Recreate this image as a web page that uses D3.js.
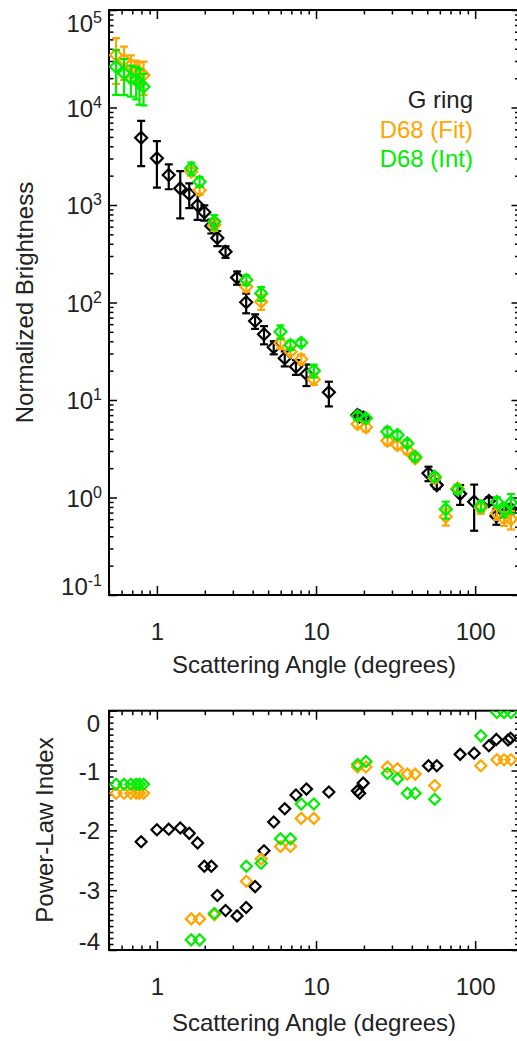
<!DOCTYPE html>
<html><head><meta charset="utf-8">
<script src="https://cdn.jsdelivr.net/npm/d3@7"></script>
<style>
body{margin:0;background:#fff}
svg{display:block}
text{font-family:"Liberation Sans",Arial,Helvetica,sans-serif;fill:#222}
</style>
</head><body>
<svg id="c" width="517" height="1041"></svg>
<script>
// ---------------- data ----------------
// G ring
const gAngle = [0.796,1.00,1.187,1.402,1.597,1.802,1.986,2.198,2.397,2.70,3.19,3.64,4.14,4.71,5.42,6.36,7.48,8.71,12.04,18.2,18.8,19.8,50.9,57.4,80.5,98.6,122,136,161,167];
const gBright = [4900,3010,2030,1480,1297,993,841,610,459,332,180,100.5,64.6,47.2,34.7,26.8,21.9,18.5,12.0,7.0,6.8,6.6,1.77,1.34,1.09,0.906,0.92,0.645,0.744,0.76];
const gErr = [2400,1500,580,750,370,290,150,100,80,45,28,23,11,10,5.3,4.7,3.8,4.6,3.4,0.4,0.3,0.3,0.3,0.12,0.25,0.45,0.08,0.12,0.08,0.08];
const gIndex = [-2.19,-1.99,-1.98,-1.96,-2.05,-2.21,-2.60,-2.60,-3.09,-3.34,-3.43,-3.29,-2.94,-2.34,-1.86,-1.64,-1.41,-1.31,-1.36,-1.34,-1.38,-1.21,-0.92,-0.92,-0.73,-0.71,-0.585,-0.48,-0.49,-0.46];

// D68 (shared angles)
const dAngle = [0.554,0.622,0.686,0.741,0.777,0.824,1.644,1.855,2.296,3.65,4.52,5.98,6.91,8.07,9.69,18.25,20.6,28.1,32.5,37.5,42.0,55.7,65.4,77.5,108.6,137,152,168];
const fitBright = [34500,30700,27300,24300,23000,21500,2197,1417,624,145,102,38.5,31.3,26.2,16.3,5.68,5.25,3.83,3.45,3.07,2.52,1.58,0.635,1.24,0.78,0.69,0.61,0.60];
const fitErr = [17000,11500,7000,6000,6000,8000,200,150,80,16,18,5,2.3,3,2,0.5,0.5,0.4,0.3,0.3,0.2,0.15,0.12,0.12,0.1,0.1,0.1,0.13];
const intBright = [26200,22400,19900,19100,17700,16300,2377,1733,675,170,124,50.2,36.6,38.7,20.0,6.85,6.49,4.73,4.37,3.59,2.62,1.63,0.757,1.21,0.818,0.905,0.744,0.885];
const intErr = [12700,9000,7000,7000,7000,5800,350,200,115,20,20,8,4,3,3,0.6,0.5,0.5,0.4,0.3,0.2,0.15,0.15,0.12,0.1,0.1,0.12,0.2];
const fitIndex = [-1.38,-1.38,-1.38,-1.38,-1.38,-1.38,-3.48,-3.48,-3.41,-2.85,-2.48,-2.27,-2.27,-1.80,-1.80,-0.94,-0.94,-0.94,-0.97,-1.06,-1.06,-1.25,null,null,-0.92,-0.82,-0.82,-0.82];
const intIndex = [-1.23,-1.23,-1.23,-1.23,-1.23,-1.23,-3.83,-3.83,-3.39,-2.60,-2.55,-2.14,-2.14,-1.56,-1.56,-0.90,-0.85,-1.05,-1.14,-1.38,-1.38,-1.48,null,null,-0.42,-0.03,-0.03,-0.03];

// ticks / labels
const xMajor = [1,10,100];
const xLabels = ["1","10","100"];
const yTopExp = [-1,0,1,2,3,4,5];
const yBotMajor = [-4,-3,-2,-1,0];
const legendNames = ["G ring","D68 (Fit)","D68 (Int)"];
const colors = {g:"#000000", fit:"#ffa500", int:"#00ee00"};

// ---------------- layout ----------------
const svg = d3.select("#c");
const L = 109, R = 519.5;
const top1 = 10, bot1 = 595, top2 = 710.7, bot2 = 950;

const x = d3.scaleLog().domain([0.5,190]).range([L,R]);
const yT = d3.scaleLog().domain([0.1,1e5]).range([bot1,top1]);
const yB = d3.scaleLinear().domain([-4,0]).range([bot2,top2]);

function logMinor(lo, hi){
  const out=[];
  for(let e=-2;e<=6;e++){
    for(let k=2;k<=9;k++){
      const v=k*Math.pow(10,e);
      if(v>=lo*0.999 && v<=hi*1.001) out.push(v);
    }
  }
  return out;
}
const xMinor = logMinor(0.5,190);
const yTMinor = logMinor(0.1,1e5);
const yBMinor = d3.range(-40,1).map(d=>d/10).filter(d=>!yBotMajor.some(m=>Math.abs(m-d)<1e-9));

function styleAxis(g, w){
  g.select(".domain").remove();
  g.selectAll(".tick line").attr("stroke","#000").attr("stroke-width",w);
}

function frame(y0,y1){
  svg.append("rect").attr("x",L).attr("y",y0).attr("width",R-L).attr("height",y1-y0)
    .attr("fill","none").attr("stroke","#000").attr("stroke-width",2);
}

function xAxes(y0,y1){
  // bottom major with labels
  svg.append("g").attr("transform",`translate(0,${y1})`)
    .call(d3.axisBottom(x).tickValues(xMajor).tickSizeInner(-9).tickSizeOuter(0).tickPadding(28)
      .tickFormat((d,i)=>xLabels[i]))
    .call(g=>styleAxis(g,1.5))
    .call(g=>g.selectAll("text").attr("font-size",24).attr("fill","#222"));
  svg.append("g").attr("transform",`translate(0,${y1})`)
    .call(d3.axisBottom(x).tickValues(xMinor).tickSizeInner(-4.5).tickSizeOuter(0).tickFormat(""))
    .call(g=>styleAxis(g,1.5));
  svg.append("g").attr("transform",`translate(0,${y0})`)
    .call(d3.axisTop(x).tickValues(xMajor).tickSizeInner(-9).tickSizeOuter(0).tickFormat(""))
    .call(g=>styleAxis(g,1.5));
  svg.append("g").attr("transform",`translate(0,${y0})`)
    .call(d3.axisTop(x).tickValues(xMinor).tickSizeInner(-4.5).tickSizeOuter(0).tickFormat(""))
    .call(g=>styleAxis(g,1.5));
}

function yAxes(scale, major, minor){
  svg.append("g").attr("transform",`translate(${L},0)`)
    .call(d3.axisLeft(scale).tickValues(major).tickSizeInner(-8).tickSizeOuter(0).tickFormat(""))
    .call(g=>styleAxis(g,1.5));
  svg.append("g").attr("transform",`translate(${L},0)`)
    .call(d3.axisLeft(scale).tickValues(minor).tickSizeInner(-4.5).tickSizeOuter(0).tickFormat(""))
    .call(g=>styleAxis(g,1.5));
  svg.append("g").attr("transform",`translate(${R},0)`)
    .call(d3.axisRight(scale).tickValues(major).tickSizeInner(-8).tickSizeOuter(0).tickFormat(""))
    .call(g=>styleAxis(g,1.5));
  svg.append("g").attr("transform",`translate(${R},0)`)
    .call(d3.axisRight(scale).tickValues(minor).tickSizeInner(-4.5).tickSizeOuter(0).tickFormat(""))
    .call(g=>styleAxis(g,1.5));
}

// clip paths
const defs = svg.append("defs");
defs.append("clipPath").attr("id","clipT").append("rect").attr("x",L).attr("y",top1).attr("width",R-L).attr("height",bot1-top1);
defs.append("clipPath").attr("id","clipB").append("rect").attr("x",L).attr("y",top2).attr("width",R-L).attr("height",bot2-top2);

function diamond(cx,cy,s){return `M${cx},${cy-s}L${cx+s},${cy}L${cx},${cy+s}L${cx-s},${cy}Z`;}

// ---------------- top panel ----------------
xAxes(top1,bot1);
yAxes(yT, yTopExp.map(e=>Math.pow(10,e)), yTMinor);
frame(top1,bot1);

// y tick labels with superscripts
const topLab = svg.append("g");
yTopExp.forEach((e,i)=>{
  const ty = yT(Math.pow(10,e));
  let dy = 9;
  if(i===yTopExp.length-1) dy = 21.5;
  if(i===0) dy = 0;
  const t = topLab.append("text").attr("x",102).attr("y",ty+dy).attr("text-anchor","end").attr("font-size",24);
  t.append("tspan").text("10");
  t.append("tspan").attr("font-size",16).attr("dy",-9).text(String(e));
});

const pT = svg.append("g").attr("clip-path","url(#clipT)");
function drawSeries(g, ang, val, err, col){
  const sg = g.append("g");
  ang.forEach((a,i)=>{
    const cx = x(a), v = val[i], e = err[i];
    const lo = Math.max(v-e, 1e-3), hi = v+e;
    const y1 = yT(lo), y2 = yT(hi);
    sg.append("line").attr("x1",cx).attr("x2",cx).attr("y1",y1).attr("y2",y2).attr("stroke",col).attr("stroke-width",2.2);
    [y1,y2].forEach(yy=>sg.append("line").attr("x1",cx-4).attr("x2",cx+4).attr("y1",yy).attr("y2",yy).attr("stroke",col).attr("stroke-width",2.2));
    sg.append("path").attr("d",diamond(cx,yT(v),6)).attr("fill","none").attr("stroke",col).attr("stroke-width",2.2);
  });
}
drawSeries(pT, gAngle, gBright, gErr, colors.g);
drawSeries(pT, dAngle, fitBright, fitErr, colors.fit);
drawSeries(pT, dAngle, intBright, intErr, colors.int);

// legend
const legCols = [colors.g, colors.fit, colors.int];
legendNames.forEach((n,i)=>{
  svg.append("text").attr("x",473).attr("y",108.3+i*29.2).attr("text-anchor","end")
    .attr("font-size",24).style("fill", i===0?"#222":legCols[i]).text(n);
});

// axis titles
svg.append("text").attr("transform","translate(33,302.5) rotate(-90)").attr("text-anchor","middle")
  .attr("font-size",24).text("Normalized Brightness");
svg.append("text").attr("x",314).attr("y",673).attr("text-anchor","middle").attr("font-size",24)
  .text("Scattering Angle (degrees)");

// ---------------- bottom panel ----------------
xAxes(top2,bot2);
yAxes(yB, yBotMajor, yBMinor);
frame(top2,bot2);

const botDy = {"-4":0,"-3":8.5,"-2":9,"-1":9,"0":21};
yBotMajor.forEach(v=>{
  svg.append("text").attr("x",100).attr("y",yB(v)+botDy[String(v)]).attr("text-anchor","end")
    .attr("font-size",24).text(String(v));
});

const pB = svg.append("g").attr("clip-path","url(#clipB)");
function drawIdx(ang, vals, col){
  const sg = pB.append("g");
  ang.forEach((a,i)=>{
    if(vals[i]===null) return;
    sg.append("path").attr("d",diamond(x(a),yB(vals[i]),5.5)).attr("fill","none").attr("stroke",col).attr("stroke-width",2.2);
  });
}
drawIdx(gAngle, gIndex, colors.g);
drawIdx(dAngle, fitIndex, colors.fit);
drawIdx(dAngle, intIndex, colors.int);

svg.append("text").attr("transform","translate(53,830) rotate(-90)").attr("text-anchor","middle")
  .attr("font-size",24).text("Power-Law Index");
svg.append("text").attr("x",314).attr("y",1031).attr("text-anchor","middle").attr("font-size",24)
  .text("Scattering Angle (degrees)");
</script>
</body></html>
